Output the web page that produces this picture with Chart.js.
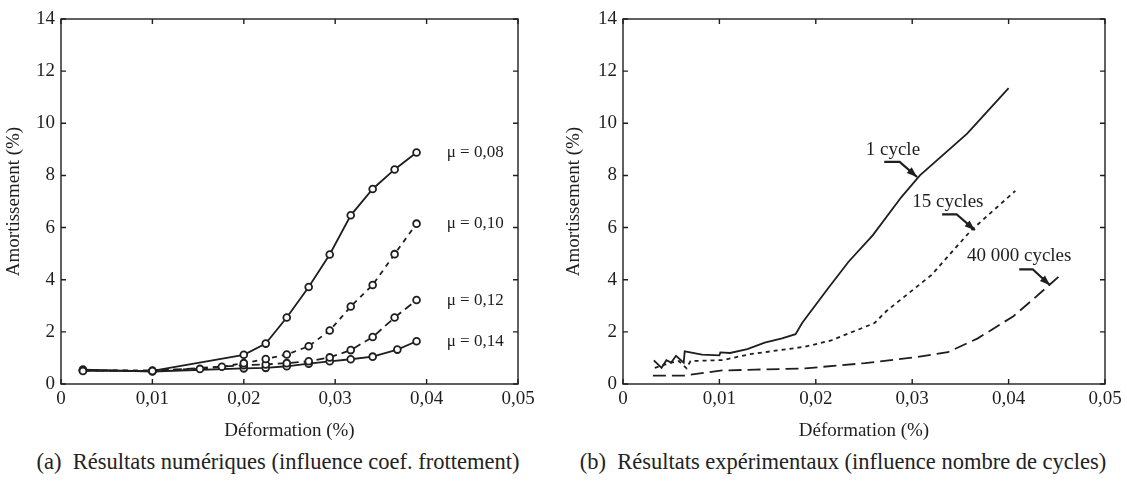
<!DOCTYPE html>
<html>
<head>
<meta charset="utf-8">
<script src="https://cdn.jsdelivr.net/npm/chart.js@4.4.0/dist/chart.umd.min.js"></script>
<style>
  body { margin: 0; background: #fff; width: 1127px; height: 481px; overflow: hidden; position: relative; }
  .box { position: absolute; top: 0; height: 445px; }
  .cap { position: absolute; top: 449px; font-family: 'Liberation Serif', 'Times New Roman', Times, serif; font-size: 22.5px; color: #222; white-space: pre; transform: translateX(-50%); }
</style>
</head>
<body>
<div class="box" style="left:0;width:560px"><canvas id="chartA"></canvas></div>
<div class="box" style="left:560px;width:567px"><canvas id="chartB"></canvas></div>
<div class="cap" style="left:278px">(a)  Résultats numériques (influence coef. frottement)</div>
<div class="cap" style="left:843px">(b)  Résultats expérimentaux (influence nombre de cycles)</div>
<script>
// --- numerical results (a) ---
const mu08X = [0.0024, 0.010, 0.020, 0.0224, 0.0247, 0.0271, 0.0294, 0.0317, 0.0341, 0.0365, 0.0389];
const mu08Y = [0.50, 0.50, 1.12, 1.55, 2.55, 3.72, 4.97, 6.47, 7.48, 8.23, 8.88];
const mu10X = [0.0024, 0.010, 0.0152, 0.0176, 0.020, 0.0224, 0.0247, 0.0271, 0.0294, 0.0317, 0.0341, 0.0365, 0.0389];
const mu10Y = [0.52, 0.52, 0.58, 0.66, 0.80, 0.96, 1.13, 1.45, 2.05, 2.97, 3.80, 4.98, 6.15];
const mu12X = [0.0024, 0.010, 0.020, 0.0224, 0.0247, 0.0271, 0.0294, 0.0317, 0.0341, 0.0365, 0.0389];
const mu12Y = [0.52, 0.50, 0.72, 0.75, 0.80, 0.87, 1.02, 1.30, 1.80, 2.55, 3.22];
const mu14X = [0.0024, 0.010, 0.020, 0.0224, 0.0247, 0.0271, 0.0294, 0.0317, 0.0341, 0.0368, 0.0389];
const mu14Y = [0.55, 0.48, 0.60, 0.62, 0.68, 0.78, 0.87, 0.95, 1.05, 1.32, 1.64];
const muLabels = ['μ = 0,08', 'μ = 0,10', 'μ = 0,12', 'μ = 0,14'];

// --- experimental results (b) ---
const c1X = [0.0032, 0.0040, 0.0045, 0.0050, 0.0055, 0.0063, 0.0064, 0.0082, 0.0100, 0.0101, 0.0111, 0.0129, 0.0147, 0.0165, 0.0179, 0.0186, 0.0213, 0.0234, 0.0259, 0.0289, 0.0308, 0.0357, 0.0400];
const c1Y = [0.91, 0.62, 0.91, 0.82, 1.08, 0.82, 1.25, 1.13, 1.10, 1.21, 1.19, 1.34, 1.59, 1.75, 1.91, 2.35, 3.68, 4.69, 5.70, 7.18, 8.00, 9.60, 11.35];
const c15X = [0.0033, 0.0050, 0.0058, 0.0066, 0.0070, 0.0104, 0.0131, 0.0189, 0.0216, 0.0261, 0.0273, 0.0320, 0.0361, 0.0407];
const c15Y = [0.62, 0.82, 0.88, 0.60, 0.88, 0.92, 1.14, 1.43, 1.67, 2.34, 2.79, 4.18, 5.89, 7.41];
const c40kX = [0.0031, 0.0063, 0.0103, 0.0137, 0.0189, 0.0251, 0.0302, 0.0337, 0.0368, 0.0405, 0.0423, 0.0454];
const c40kY = [0.32, 0.32, 0.52, 0.55, 0.60, 0.80, 1.02, 1.22, 1.75, 2.60, 3.17, 4.18];
const cycleLabels = ['1 cycle', '15 cycles', '40 000 cycles'];

const xTicks = ['0', '0,01', '0,02', '0,03', '0,04', '0,05'];
const SERIF = "'Liberation Serif', 'Times New Roman', Times, serif";
const INK = '#1e1e1e';

function pts(xs, ys) { return xs.map((x, i) => ({ x, y: ys[i] })); }

// frame with inward ticks on all four sides
const framePlugin = {
  id: 'frame',
  afterDraw(chart) {
    const { ctx, chartArea: a, scales: { x, y } } = chart;
    ctx.save();
    ctx.strokeStyle = INK;
    ctx.lineWidth = 1.4;
    ctx.strokeRect(a.left, a.top, a.width, a.height);
    ctx.beginPath();
    x.ticks.forEach(t => {
      const px = x.getPixelForValue(t.value);
      ctx.moveTo(px, a.bottom); ctx.lineTo(px, a.bottom - 5);
      ctx.moveTo(px, a.top); ctx.lineTo(px, a.top + 5);
    });
    y.ticks.forEach(t => {
      const py = y.getPixelForValue(t.value);
      ctx.moveTo(a.left, py); ctx.lineTo(a.left + 5, py);
      ctx.moveTo(a.right, py); ctx.lineTo(a.right - 5, py);
    });
    ctx.stroke();
    ctx.restore();
  }
};

// text notes and arrows placed in data coordinates
const notesPlugin = {
  id: 'notes',
  afterDatasetsDraw(chart, args, opts) {
    const { ctx, scales: { x, y } } = chart;
    ctx.save();
    ctx.fillStyle = INK;
    ctx.strokeStyle = INK;
    ctx.font = (opts.size || 19) + 'px ' + SERIF;
    ctx.textBaseline = 'middle';
    (opts.texts || []).forEach(n => {
      ctx.textAlign = n.align || 'center';
      ctx.fillText(n.text, x.getPixelForValue(n.x), y.getPixelForValue(n.y));
    });
    (opts.arrows || []).forEach(ar => {
      const p = ar.map(q => [x.getPixelForValue(q[0]), y.getPixelForValue(q[1])]);
      ctx.lineWidth = 2.2;
      ctx.beginPath();
      ctx.moveTo(p[0][0], p[0][1]);
      for (let i = 1; i < p.length; i++) ctx.lineTo(p[i][0], p[i][1]);
      ctx.stroke();
      const [ax, ay] = p[p.length - 1], [bx, by] = p[p.length - 2];
      const ang = Math.atan2(ay - by, ax - bx);
      ctx.beginPath();
      ctx.moveTo(ax, ay);
      ctx.lineTo(ax - 11 * Math.cos(ang - 0.35), ay - 11 * Math.sin(ang - 0.35));
      ctx.lineTo(ax - 11 * Math.cos(ang + 0.35), ay - 11 * Math.sin(ang + 0.35));
      ctx.closePath();
      ctx.fill();
    });
    ctx.restore();
  }
};

function baseOptions(padRight, yWidth, notes) {
  return {
    responsive: true,
    maintainAspectRatio: false,
    animation: false,
    layout: { padding: { top: 19, right: padRight, left: 0, bottom: 0 } },
    plugins: { legend: { display: false }, tooltip: { enabled: false }, notes },
    scales: {
      x: {
        type: 'linear', min: 0, max: 0.05,
        grid: { display: false, drawTicks: false },
        border: { display: false },
        ticks: {
          stepSize: 0.01, padding: 4, color: INK,
          font: { family: SERIF, size: 19 },
          callback: (v) => xTicks[Math.round(v * 100)]
        },
        title: { display: true, text: 'Déformation (%)', color: INK, font: { family: SERIF, size: 19 }, padding: { top: 0, bottom: 3 } },
        afterFit: (s) => { s.height = 61; }
      },
      y: {
        type: 'linear', min: 0, max: 14,
        grid: { display: false, drawTicks: false },
        border: { display: false },
        ticks: { stepSize: 2, padding: 6, color: INK, font: { family: SERIF, size: 19 } },
        title: { display: true, text: 'Amortissement (%)', color: INK, font: { family: SERIF, size: 19 }, padding: { top: 3, bottom: 0 } },
        afterFit: (s) => { s.width = yWidth; }
      }
    }
  };
}

function muSet(xs, ys, dash) {
  return {
    data: pts(xs, ys), borderColor: INK, borderWidth: 1.8, borderDash: dash,
    pointRadius: 3.4, pointBorderWidth: 1.8, pointBackgroundColor: '#fff', pointBorderColor: INK,
    tension: 0, fill: false
  };
}

new Chart(document.getElementById('chartA'), {
  type: 'line',
  data: {
    datasets: [
      muSet(mu08X, mu08Y, []),
      muSet(mu10X, mu10Y, [5, 5]),
      muSet(mu12X, mu12Y, [8, 5]),
      muSet(mu14X, mu14Y, [])
    ]
  },
  options: baseOptions(42, 61, {
    size: 17,
    texts: [
      { text: muLabels[0], x: 0.0422, y: mu08Y[mu08Y.length - 1], align: 'left' },
      { text: muLabels[1], x: 0.0422, y: mu10Y[mu10Y.length - 1], align: 'left' },
      { text: muLabels[2], x: 0.0422, y: mu12Y[mu12Y.length - 1], align: 'left' },
      { text: muLabels[3], x: 0.0422, y: mu14Y[mu14Y.length - 1], align: 'left' }
    ]
  }),
  plugins: [framePlugin, notesPlugin]
});

function cycSet(xs, ys, dash) {
  return { data: pts(xs, ys), borderColor: INK, borderWidth: 1.8, borderDash: dash, pointRadius: 0, tension: 0, fill: false };
}

new Chart(document.getElementById('chartB'), {
  type: 'line',
  data: {
    datasets: [
      cycSet(c1X, c1Y, []),
      cycSet(c15X, c15Y, [4, 4]),
      cycSet(c40kX, c40kY, [13, 6])
    ]
  },
  options: baseOptions(22, 63, {
    size: 19,
    texts: [
      { text: cycleLabels[0], x: 0.0280, y: 8.97 },
      { text: cycleLabels[1], x: 0.0337, y: 6.97 },
      { text: cycleLabels[2], x: 0.0411, y: 4.90 }
    ],
    arrows: [
      [[0.0271, 8.52], [0.0287, 8.52], [0.0305, 7.94]],
      [[0.0331, 6.51], [0.0346, 6.51], [0.0365, 5.90]],
      [[0.0411, 4.40], [0.0425, 4.40], [0.0443, 3.79]]
    ]
  }),
  plugins: [framePlugin, notesPlugin]
});
</script>
</body>
</html>
